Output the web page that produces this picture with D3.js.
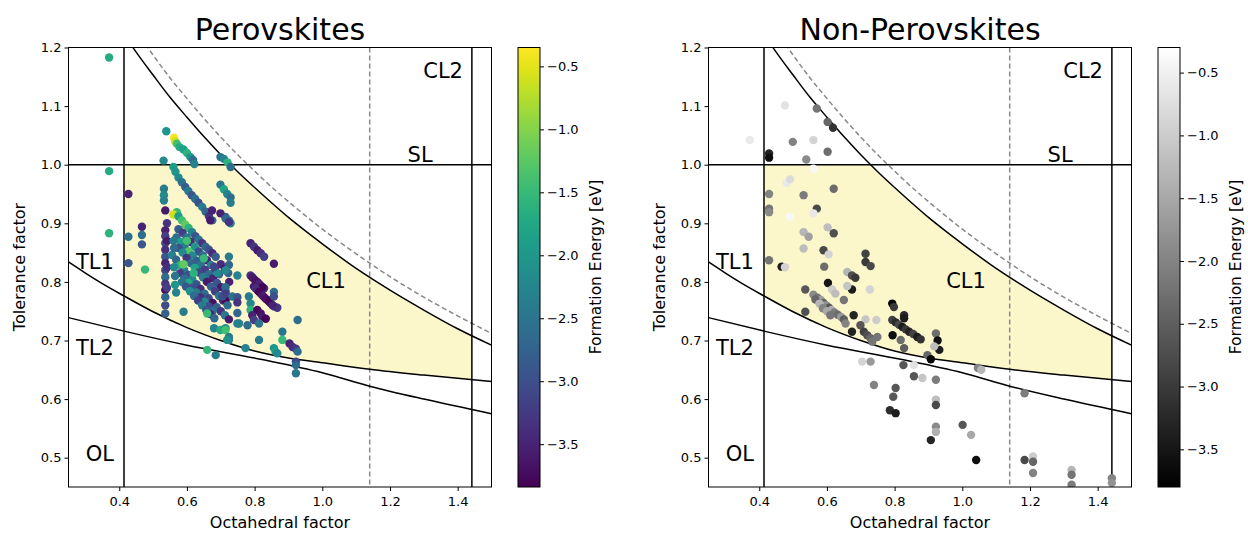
<!DOCTYPE html>
<html>
<head>
<meta charset="utf-8">
<script src="https://cdn.jsdelivr.net/npm/d3@7"></script>
<style>
  body { margin: 0; background: #fff; }
  text { font-family: "DejaVu Sans", sans-serif; fill: #000; }
</style>
</head>
<body>
<svg id="chart" width="1248" height="533"></svg>
<script>
// tick labels
const xTicks = [0.4, 0.6, 0.8, 1.0, 1.2, 1.4];
const yTicks = [0.5, 0.6, 0.7, 0.8, 0.9, 1.0, 1.1, 1.2];
const cbarTicks = [-0.5, -1.0, -1.5, -2.0, -2.5, -3.0, -3.5];

// limits (octahedral factor / tolerance factor)
const octahedralLimit = 0.414;
const stretchLimit = 1.0;
const chemicalLimit2 = 1.442;
const dashedLimit = 1.14;

// boundary curves, [mu, t]
const cl1Curve = [[0.40,1.235],[0.43,1.209],[0.45,1.192],[0.5,1.153],[0.55,1.115],[0.6,1.081],[0.65,1.048],[0.7,1.017],[0.75,0.988],[0.8,0.961],[0.85,0.935],[0.9,0.910],[0.95,0.887],[1.0,0.865],[1.1,0.823],[1.2,0.786],[1.3,0.752],[1.4,0.720],[1.5,0.692]];
const dashedCurve = [[0.45,1.228],[0.5,1.187],[0.55,1.148],[0.6,1.113],[0.65,1.079],[0.7,1.047],[0.75,1.017],[0.8,0.989],[0.85,0.962],[0.9,0.937],[0.95,0.913],[1.0,0.890],[1.1,0.848],[1.2,0.809],[1.3,0.774],[1.4,0.742],[1.5,0.712]];
const tl1Curve = [[0.25,0.834],[0.3,0.815],[0.35,0.797],[0.414,0.776],[0.5,0.749],[0.6,0.722],[0.7,0.700],[0.8,0.682],[0.9,0.670],[1.0,0.662],[1.14,0.651],[1.3,0.641],[1.5,0.630]];
const tl2Curve = [[0.25,0.739],[0.414,0.716],[0.6,0.692],[0.818,0.668],[1.0,0.645],[1.14,0.622],[1.3,0.600],[1.5,0.575]];

const regionNames = ["CL2", "SL", "CL1", "TL1", "TL2", "OL"];

// [octahedral factor, tolerance factor, formation energy eV]
const perovskites = [
  [0.370,1.183,-1.7],[0.370,0.989,-1.7],[0.370,0.883,-1.6],
  [0.539,1.057,-2.0],[0.562,1.046,-0.4],[0.565,1.040,-0.6],[0.570,1.036,-1.4],[0.578,1.030,-1.7],[0.590,1.026,-1.9],[0.600,1.020,-1.6],[0.610,1.013,-2.0],[0.618,1.008,-2.6],[0.622,1.001,-2.3],
  [0.531,1.007,-2.2],
  [0.699,1.013,-2.5],[0.709,1.010,-2.3],[0.720,1.004,-1.6],[0.729,0.996,-2.6],
  [0.560,0.996,-1.9],[0.566,0.988,-2.0],[0.575,0.978,-2.2],[0.585,0.970,-2.5],[0.595,0.962,-2.8],[0.604,0.955,-2.4],[0.614,0.948,-2.9],[0.624,0.942,-2.6],[0.634,0.935,-3.0],[0.645,0.928,-2.4],[0.655,0.920,-2.7],[0.665,0.912,-3.3],[0.675,0.905,-2.5],
  [0.699,0.966,-2.5],[0.709,0.958,-1.8],[0.719,0.950,-2.3],[0.729,0.944,-2.6],[0.729,0.935,-2.4],
  [0.714,0.911,-2.8],[0.724,0.905,-2.5],[0.729,0.900,-2.3],
  [0.532,0.959,-2.4],[0.532,0.948,-2.2],[0.532,0.939,-2.3],[0.536,0.922,-3.6],
  [0.536,0.888,-3.5],[0.536,0.878,-3.2],[0.536,0.866,-3.0],[0.536,0.855,-3.4],[0.536,0.843,-2.9],[0.536,0.832,-3.5],[0.536,0.820,-3.1],[0.536,0.808,-2.6],[0.536,0.797,-3.3],[0.536,0.786,-3.7],[0.536,0.774,-2.7],[0.536,0.760,-3.0],[0.536,0.746,-2.8],
  [0.541,0.900,-3.3],[0.541,0.870,-3.6],[0.541,0.825,-3.4],[0.541,0.790,-3.2],
  [0.427,0.950,-3.5],[0.427,0.877,-2.6],[0.427,0.832,-2.9],[0.467,0.894,-3.5],[0.467,0.880,-2.6],[0.467,0.864,-2.9],[0.476,0.821,-1.5],
  [0.570,0.919,-1.5],[0.560,0.915,-0.6],[0.575,0.912,-1.9],[0.585,0.905,-1.4],[0.595,0.898,-1.2],[0.605,0.892,-1.6],[0.615,0.885,-2.3],[0.625,0.878,-2.9],[0.635,0.872,-2.5],[0.645,0.866,-3.3],[0.655,0.860,-2.7],[0.665,0.855,-3.0],[0.675,0.849,-3.4],[0.685,0.843,-2.8],
  [0.674,0.922,-3.5],[0.699,0.917,-3.5],[0.714,0.908,-2.7],[0.724,0.902,-3.3],[0.669,0.905,-3.6],
  [0.575,0.890,-2.8],[0.587,0.884,-3.2],[0.599,0.876,-2.5],[0.611,0.868,-3.4],[0.623,0.860,-2.0],[0.635,0.852,-3.0],[0.647,0.845,-2.6],[0.659,0.837,-3.5],[0.671,0.829,-2.3],[0.683,0.821,-3.3],[0.695,0.813,-2.7],
  [0.569,0.876,-2.6],[0.581,0.868,-1.9],[0.593,0.860,-2.4],[0.605,0.852,-1.3],[0.617,0.845,-2.2],[0.629,0.836,-2.8],[0.641,0.829,-2.5],[0.653,0.821,-3.2],[0.665,0.813,-2.6],[0.677,0.806,-3.5],[0.689,0.798,-2.9],[0.701,0.791,-3.6],[0.714,0.784,-3.1],
  [0.575,0.858,-3.0],[0.587,0.850,-2.2],[0.599,0.841,-3.3],[0.611,0.832,-2.7],[0.623,0.824,-1.8],[0.635,0.816,-3.1],[0.647,0.808,-2.4],[0.659,0.800,-3.6],[0.671,0.792,-2.8],[0.683,0.784,-3.2],[0.695,0.776,-2.5],[0.707,0.768,-3.5],
  [0.556,0.846,-2.3],[0.568,0.838,-2.7],[0.580,0.829,-1.6],[0.592,0.820,-2.4],[0.604,0.812,-3.0],[0.616,0.804,-2.2],[0.628,0.796,-2.9],[0.640,0.788,-3.4],[0.652,0.780,-2.6],[0.664,0.772,-3.1],[0.676,0.764,-3.7],[0.688,0.757,-2.8],[0.700,0.750,-3.3],[0.712,0.743,-2.5],[0.724,0.736,-3.6],
  [0.580,0.815,-3.2],[0.592,0.806,-2.6],[0.604,0.798,-1.7],[0.616,0.790,-3.0],[0.628,0.782,-2.4],[0.640,0.774,-3.3],[0.652,0.766,-2.2],[0.664,0.758,-3.0],[0.676,0.750,-2.6],
  [0.585,0.800,-2.5],[0.597,0.792,-2.9],[0.609,0.784,-2.1],[0.621,0.776,-2.6],[0.633,0.768,-3.2],[0.645,0.760,-2.4],[0.657,0.752,-2.9],[0.669,0.745,-3.5],[0.681,0.738,-2.7],
  [0.600,0.870,-1.4],[0.590,0.830,-1.2],[0.650,0.840,-1.5],[0.620,0.815,-1.6],
  [0.560,0.870,-2.4],[0.562,0.858,-2.6],[0.562,0.825,-2.2],[0.565,0.810,-2.5],[0.565,0.795,-2.0],[0.568,0.782,-2.3],
  [0.590,0.749,-2.4],[0.660,0.746,-1.5],[0.680,0.721,-2.3],[0.699,0.718,-1.7],[0.714,0.721,-2.2],[0.724,0.701,-2.4],[0.749,0.729,-2.3],[0.660,0.684,-1.5],[0.685,0.675,-2.4],
  [0.700,0.830,-3.4],[0.712,0.822,-3.7],[0.722,0.815,-2.8],[0.725,0.800,-3.5],[0.715,0.770,-3.8],[0.705,0.775,-3.0],[0.720,0.760,-2.6],[0.690,0.815,-2.2],[0.680,0.826,-3.1],
  [0.724,0.843,-2.4],[0.724,0.829,-2.7],[0.714,0.820,-2.2],[0.749,0.811,-2.3],
  [0.788,0.866,-3.5],[0.798,0.860,-3.3],[0.808,0.854,-3.6],[0.818,0.849,-3.4],[0.828,0.843,-3.2],[0.857,0.831,-3.6],
  [0.788,0.811,-3.3],[0.798,0.805,-3.0],[0.808,0.800,-3.5],[0.818,0.794,-2.9],[0.828,0.789,-3.4],
  [0.793,0.808,-3.6],[0.803,0.802,-3.7],[0.813,0.797,-3.5],[0.823,0.791,-3.8],
  [0.798,0.792,-3.6],[0.808,0.786,-3.7],[0.818,0.780,-3.2],[0.828,0.774,-3.5],[0.838,0.769,-3.6],[0.848,0.763,-3.4],[0.858,0.758,-3.1],[0.867,0.756,-3.3],
  [0.803,0.789,-3.4],[0.813,0.783,-3.8],[0.823,0.777,-3.6],[0.833,0.771,-3.7],[0.843,0.766,-3.8],[0.853,0.760,-3.5],
  [0.857,0.783,-2.6],[0.857,0.775,-3.0],
  [0.714,0.791,-2.6],[0.714,0.780,-3.2],[0.734,0.775,-2.5],[0.749,0.774,-2.9],[0.749,0.765,-3.3],[0.749,0.747,-2.7],
  [0.783,0.775,-2.4],[0.788,0.763,-2.2],[0.788,0.752,-1.6],
  [0.808,0.752,-3.8],[0.818,0.746,-3.7],[0.823,0.740,-3.6],[0.833,0.737,-3.8],[0.793,0.743,-3.5],[0.798,0.735,-3.2],
  [0.813,0.729,-2.5],[0.754,0.729,-2.3],[0.779,0.726,-2.6],[0.714,0.718,-1.4],[0.724,0.706,-2.4],[0.719,0.701,-2.1],
  [0.813,0.701,-2.4],[0.882,0.715,-2.5],[0.882,0.701,-1.5],[0.927,0.735,-2.6],
  [0.857,0.687,-2.0],[0.862,0.681,-1.9],[0.867,0.678,-2.2],
  [0.903,0.695,-3.5],[0.912,0.689,-3.4],[0.922,0.686,-3.3],[0.927,0.681,-2.6],
  [0.773,0.687,-2.3],
  [0.922,0.664,-3.1],[0.922,0.658,-2.6],[0.922,0.644,-2.5]
];

const nonPerovskites = [
  [0.372,1.042,-0.6],[0.476,1.101,-0.7],[0.499,1.039,-2.0],[0.560,1.042,-0.9],[0.570,1.096,-2.2],[0.602,1.073,-2.4],[0.618,1.063,-3.1],[0.602,1.022,-2.3],
  [0.429,1.019,-3.3],[0.429,1.012,-3.6],[0.539,1.009,-1.9],[0.560,0.993,-0.4],[0.481,0.969,-0.6],[0.491,0.975,-0.8],[0.620,0.959,-2.3],
  [0.429,0.950,-2.0],[0.531,0.948,-2.1],[0.570,0.925,-2.8],[0.560,0.917,-0.6],[0.429,0.925,-2.2],[0.429,0.919,-1.9],[0.491,0.911,-0.4],
  [0.531,0.885,-1.3],[0.546,0.877,-1.6],[0.602,0.893,-1.2],[0.620,0.883,-2.7],[0.531,0.857,-1.2],[0.590,0.854,-2.8],[0.605,0.847,-0.9],
  [0.429,0.837,-2.2],[0.466,0.826,-3.4],[0.476,0.825,-0.9],[0.592,0.826,-2.3],[0.660,0.817,-1.3],
  [0.714,0.848,-2.9],[0.714,0.834,-3.0],[0.729,0.827,-2.8],[0.674,0.811,-2.7],[0.684,0.807,-3.0],[0.603,0.798,-3.5],[0.674,0.787,-3.4],
  [0.660,0.793,-1.1],[0.727,0.787,-0.9],[0.615,0.787,-1.0],[0.536,0.787,-2.6],[0.625,0.780,-1.2],
  [0.560,0.778,-1.9],[0.572,0.773,-2.2],[0.582,0.769,-1.6],[0.590,0.764,-2.4],[0.598,0.760,-1.8],[0.606,0.756,-2.6],[0.614,0.752,-1.4],[0.622,0.748,-2.1],[0.632,0.744,-2.3],[0.642,0.740,-1.7],[0.650,0.736,-2.5],[0.655,0.729,-2.0],
  [0.566,0.770,-2.4],[0.578,0.763,-1.3],[0.588,0.755,-2.0],[0.600,0.750,-1.5],[0.610,0.743,-2.2],
  [0.536,0.749,-2.7],[0.650,0.769,-2.2],[0.679,0.743,-3.3],[0.714,0.736,-1.1],[0.746,0.735,-1.0],
  [0.699,0.726,-2.6],[0.709,0.715,-2.9],[0.719,0.709,-2.7],[0.729,0.704,-2.4],[0.734,0.698,-2.2],[0.674,0.715,-3.3],[0.749,0.706,-2.2],
  [0.793,0.763,-3.7],[0.798,0.757,-3.0],[0.828,0.743,-3.2],[0.828,0.738,-3.4],
  [0.793,0.735,-2.9],[0.803,0.731,-3.2],[0.813,0.727,-2.8],[0.823,0.723,-3.4],[0.833,0.719,-3.0],[0.843,0.715,-3.3],[0.855,0.711,-2.9],[0.867,0.706,-3.4],[0.877,0.702,-3.1],
  [0.794,0.709,-3.6],[0.818,0.701,-2.3],[0.828,0.687,-2.5],
  [0.922,0.712,-2.3],[0.927,0.700,-3.6],[0.932,0.684,-3.4],[0.897,0.675,-2.4],[0.907,0.668,-3.7],[0.917,0.690,-1.2],
  [0.704,0.664,-0.9],[0.729,0.664,-1.7],[0.704,0.636,-0.3],[0.739,0.624,-2.0],[0.826,0.658,-2.6],[0.857,0.658,-0.7],
  [0.857,0.639,-2.6],[0.882,0.636,-1.1],[0.922,0.633,-2.1],[0.803,0.619,-2.6],[0.796,0.604,-2.6],[0.786,0.581,-3.2],[0.803,0.576,-3.4],
  [0.922,0.599,-1.2],[0.922,0.590,-2.8],[0.922,0.553,-1.9],[0.922,0.544,-1.4],[0.907,0.530,-3.3],
  [1.001,0.556,-2.6],[1.026,0.539,-1.5],[1.041,0.496,-3.6],[1.046,0.653,-2.0],[1.056,0.650,-1.3],
  [1.184,0.610,-2.1],[1.184,0.496,-2.8],[1.209,0.502,-1.0],[1.209,0.493,-2.4],[1.209,0.474,-2.0],
  [1.323,0.479,-1.3],[1.323,0.471,-2.2],[1.323,0.454,-2.1],[1.442,0.465,-2.0],[1.442,0.457,-1.8]
];

const svg = d3.select('#chart');
const fmtMinus = d => d3.format('.1f')(d).replace('-', '\u2212');

function drawPanel(ox, title, points, cmap, eDomain, clipId) {
    const g = svg.append('g').attr('transform', `translate(${ox},0)`);
    const x = d3.scaleLinear().domain([0.25, 1.5]).range([68.5, 491.5]);
    const y = d3.scaleLinear().domain([0.45, 1.2]).range([487, 47.5]);

    g.append('clipPath').attr('id', clipId)
        .append('rect').attr('x', 68.5).attr('y', 47.5).attr('width', 423).attr('height', 439.5);
    const plot = g.append('g').attr('clip-path', `url(#${clipId})`);

    // yellow formable region
    const lin = c => d3.scaleLinear().domain(c.map(d => d[0])).range(c.map(d => d[1]));
    const cl1 = lin(cl1Curve), tl1 = lin(tl1Curve), tl2 = lin(tl2Curve);
    const mus = d3.range(octahedralLimit, chemicalLimit2 + 0.0001, 0.005);
    if (mus[mus.length - 1] < chemicalLimit2) mus.push(chemicalLimit2);
    const top = mus.map(m => [m, Math.min(stretchLimit, cl1(m))]);
    const bottom = mus.slice().reverse().map(m => [m, Math.max(tl1(m), tl2(m))]);
    plot.append('path')
        .attr('d', d3.line().x(d => x(d[0])).y(d => y(d[1]))(top.concat(bottom)) + 'Z')
        .attr('fill', '#fcf7cb');

    const curve = d3.line().x(d => x(d[0])).y(d => y(d[1])).curve(d3.curveMonotoneX);
    plot.append('path').attr('d', curve(dashedCurve)).attr('fill', 'none')
        .attr('stroke', '#888').attr('stroke-width', 1.5).attr('stroke-dasharray', '5,3');
    plot.append('line').attr('x1', x(dashedLimit)).attr('x2', x(dashedLimit)).attr('y1', y(1.2)).attr('y2', y(0.45))
        .attr('stroke', '#888').attr('stroke-width', 1.5).attr('stroke-dasharray', '5,3');
    [cl1Curve, tl1Curve, tl2Curve].forEach(c => {
        plot.append('path').attr('d', curve(c)).attr('fill', 'none')
            .attr('stroke', '#000').attr('stroke-width', 1.5);
    });
    [octahedralLimit, chemicalLimit2].forEach(m => {
        plot.append('line').attr('x1', x(m)).attr('x2', x(m)).attr('y1', y(1.2)).attr('y2', y(0.45))
            .attr('stroke', '#000').attr('stroke-width', 1.5);
    });
    plot.append('line').attr('x1', x(0.25)).attr('x2', x(1.5)).attr('y1', y(stretchLimit)).attr('y2', y(stretchLimit))
        .attr('stroke', '#000').attr('stroke-width', 1.5);

    // scatter
    const color = d3.scaleSequential(cmap).domain(eDomain);
    plot.selectAll('circle').data(points).join('circle')
        .attr('cx', d => x(d[0])).attr('cy', d => y(d[1])).attr('r', 4.2)
        .attr('fill', d => color(d[2]));

    // region labels
    const labelPos = [[1.357, 1.148], [1.289, 1.004], [1.011, 0.789], [0.328, 0.822], [0.328, 0.676], [0.343, 0.494]];
    regionNames.forEach((n, i) => {
        g.append('text').attr('x', x(labelPos[i][0])).attr('y', y(labelPos[i][1]))
            .attr('text-anchor', 'middle').attr('font-size', 21).text(n);
    });

    // frame
    g.append('rect').attr('x', 68.5).attr('y', 47.5).attr('width', 423).attr('height', 439.5)
        .attr('fill', 'none').attr('stroke', '#000').attr('stroke-width', 1);

    // axes
    const xa = g.append('g').attr('transform', 'translate(0,487)')
        .call(d3.axisBottom(x).tickValues(xTicks).tickSize(4).tickFormat(d3.format('.1f')));
    const ya = g.append('g').attr('transform', 'translate(68.5,0)')
        .call(d3.axisLeft(y).tickValues(yTicks).tickSize(4).tickFormat(d3.format('.1f')));
    [xa, ya].forEach(a => {
        a.select('.domain').remove();
        a.selectAll('text').attr('font-size', 13).attr('font-family', '"DejaVu Sans", sans-serif').attr('fill', '#000');
        a.selectAll('line').attr('stroke', '#000');
    });
    xa.selectAll('text').attr('dy', '0.95em');

    g.append('text').attr('x', 280).attr('y', 40).attr('text-anchor', 'middle')
        .attr('font-size', 30).text(title);
    g.append('text').attr('x', 280).attr('y', 528).attr('text-anchor', 'middle')
        .attr('font-size', 16).text('Octahedral factor');
    g.append('text').attr('transform', 'translate(25,267) rotate(-90)').attr('text-anchor', 'middle')
        .attr('font-size', 16).text('Tolerance factor');

    // colorbar
    const cbX = 518, cbW = 22;
    const cy = d3.scaleLinear().domain(eDomain).range([487, 47.5]);
    const gradId = clipId + '-grad';
    const grad = svg.append('defs').append('linearGradient').attr('id', gradId)
        .attr('x1', 0).attr('y1', 1).attr('x2', 0).attr('y2', 0);
    d3.range(0, 1.0001, 0.05).forEach(s => {
        grad.append('stop').attr('offset', s).attr('stop-color', cmap(s));
    });
    g.append('rect').attr('x', cbX).attr('y', 47.5).attr('width', cbW).attr('height', 439.5)
        .attr('fill', `url(#${gradId})`).attr('stroke', '#000').attr('stroke-width', 1);
    const ca = g.append('g').attr('transform', `translate(${cbX + cbW},0)`)
        .call(d3.axisRight(cy).tickValues(cbarTicks).tickSize(4).tickFormat(fmtMinus));
    ca.select('.domain').remove();
    ca.selectAll('text').attr('font-size', 13).attr('font-family', '"DejaVu Sans", sans-serif').attr('fill', '#000');
    ca.selectAll('line').attr('stroke', '#000');
    g.append('text').attr('transform', 'translate(601,267) rotate(-90)').attr('text-anchor', 'middle')
        .attr('font-size', 15.5).text('Formation Energy [eV]');
}

drawPanel(0, 'Perovskites', perovskites, d3.interpolateViridis, [-3.84, -0.35], 'pv');
drawPanel(640, 'Non-Perovskites', nonPerovskites, d3.interpolateRgb('#000', '#fff'), [-3.8, -0.3], 'npv');
</script>
</body>
</html>
